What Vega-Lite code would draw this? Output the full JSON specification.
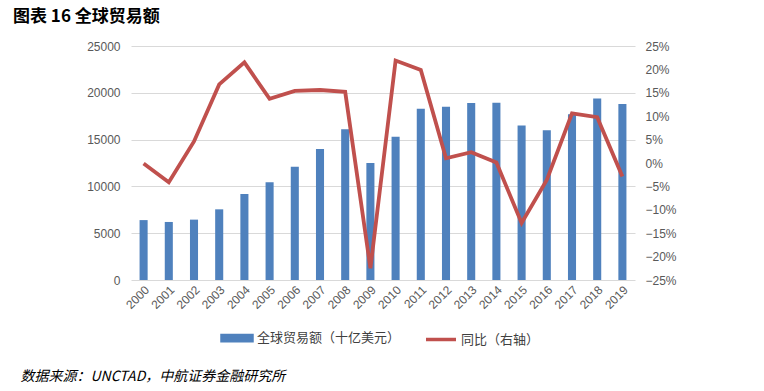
{
  "$schema": "https://vega.github.io/schema/vega-lite/v6.json",
  "width": 504,
  "height": 234,
  "autosize": {"type": "none"},
  "padding": {"left": 131, "top": 46, "right": 129, "bottom": 111},
  "background": "white",
  "title": {
    "text": "图表 16 全球贸易额",
    "anchor": "start",
    "frame": "group",
    "dx": -118,
    "offset": 14,
    "font": "Noto Sans CJK SC",
    "fontSize": 17,
    "fontWeight": "bold",
    "color": "#000000"
  },
  "config": {
    "view": {"stroke": null},
    "axis": {
      "labelFont": "Liberation Sans",
      "labelFontSize": 12,
      "labelColor": "#595959",
      "domain": false,
      "ticks": false
    }
  },
  "data": {
    "values": [
      {"year": "2000", "trade": 6400, "yoy": -0.001},
      {"year": "2001", "trade": 6200, "yoy": -0.041},
      {"year": "2002", "trade": 6450, "yoy": 0.046},
      {"year": "2003", "trade": 7550, "yoy": 0.168},
      {"year": "2004", "trade": 9200, "yoy": 0.215},
      {"year": "2005", "trade": 10450, "yoy": 0.137},
      {"year": "2006", "trade": 12100, "yoy": 0.154},
      {"year": "2007", "trade": 14000, "yoy": 0.156},
      {"year": "2008", "trade": 16100, "yoy": 0.152},
      {"year": "2009", "trade": 12500, "yoy": -0.225},
      {"year": "2010", "trade": 15300, "yoy": 0.219},
      {"year": "2011", "trade": 18300, "yoy": 0.199},
      {"year": "2012", "trade": 18500, "yoy": 0.010},
      {"year": "2013", "trade": 18900, "yoy": 0.023},
      {"year": "2014", "trade": 18950, "yoy": 0.001},
      {"year": "2015", "trade": 16500, "yoy": -0.128},
      {"year": "2016", "trade": 16000, "yoy": -0.036},
      {"year": "2017", "trade": 17700, "yoy": 0.106},
      {"year": "2018", "trade": 19400, "yoy": 0.098},
      {"year": "2019", "trade": 18800, "yoy": -0.029}
    ]
  },
  "encoding": {
    "x": {
      "field": "year",
      "type": "ordinal",
      "scale": {"paddingInner": 0.68, "paddingOuter": 0.34},
      "axis": {
        "labelAngle": -45,
        "labelPadding": 4,
        "title": "数据来源：UNCTAD，中航证券金融研究所",
        "titleFont": "Noto Sans CJK SC",
        "titleFontSize": 14,
        "titleFontStyle": "italic",
        "titleFontWeight": "normal",
        "titleColor": "#000000",
        "titleAnchor": "start",
        "titleAlign": "left",
        "titleBaseline": "top",
        "titleX": -111,
        "titleY": 89
      }
    }
  },
  "layer": [
    {
      "mark": {"type": "bar", "fill": "#4f81bd"},
      "encoding": {
        "y": {
          "field": "trade",
          "type": "quantitative",
          "scale": {"domain": [0, 25000]},
          "axis": {
            "title": null,
            "format": "d",
            "values": [0, 5000, 10000, 15000, 20000, 25000],
            "grid": true,
            "gridColor": "#d9d9d9",
            "labelPadding": 11
          }
        },
        "color": {
          "datum": "全球贸易额（十亿美元）",
          "type": "nominal",
          "scale": {
            "domain": ["全球贸易额（十亿美元）", "同比（右轴）"],
            "range": ["#4f81bd", "#c0504d"]
          },
          "legend": {
            "title": null,
            "orient": "none",
            "direction": "horizontal",
            "legendX": 89,
            "legendY": 275,
            "symbolSize": 900,
            "labelFont": "Noto Sans CJK SC",
            "labelFontSize": 13,
            "labelColor": "#404040",
            "labelOffset": 3,
            "columnPadding": 18,
            "encode": {
              "symbols": {
                "update": {
                  "shape": {"signal": "datum.value === '同比（右轴）' ? 'stroke' : 'M-1,-0.18H1V0.18H-1Z'"},
                  "fill": {"signal": "datum.value === '同比（右轴）' ? 'transparent' : '#4f81bd'"},
                  "stroke": {"signal": "datum.value === '同比（右轴）' ? '#c0504d' : 'transparent'"},
                  "strokeWidth": {"value": 3.5},
                  "opacity": {"value": 1}
                }
              }
            }
          }
        }
      }
    },
    {
      "mark": {"type": "line", "strokeWidth": 3.8, "stroke": "#c0504d"},
      "encoding": {
        "y": {
          "field": "yoy",
          "type": "quantitative",
          "scale": {"domain": [-0.25, 0.25]},
          "axis": {
            "orient": "right",
            "title": null,
            "format": ".0%",
            "values": [-0.25, -0.2, -0.15, -0.1, -0.05, 0, 0.05, 0.1, 0.15, 0.2, 0.25],
            "grid": false,
            "labelPadding": 10
          }
        },
        "color": {"datum": "同比（右轴）", "type": "nominal"}
      }
    }
  ],
  "resolve": {"scale": {"y": "independent"}}
}
